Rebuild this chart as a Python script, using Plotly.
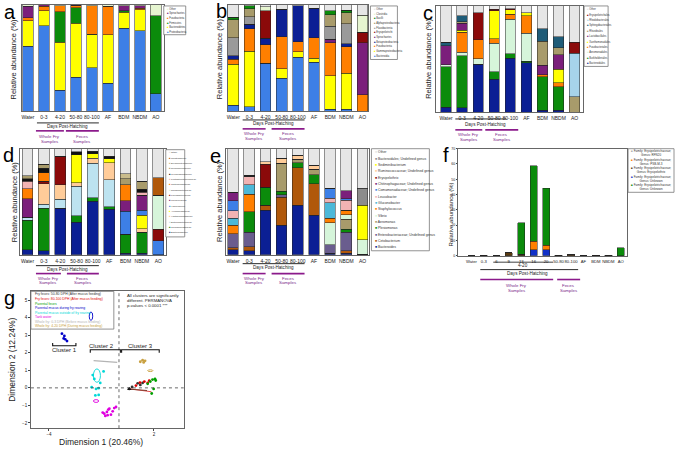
import plotly.graph_objects as go

W, H = 675, 452
FONT = "Liberation Sans, Arial, sans-serif"


def fx(p):
    return p / W


def fy(p):
    return 1 - p / H


# ---------------- DATA ----------------
CATS = ["Water", "0-3", "4-20", "50-80", "80-100", "AF", "BDM", "NBDM", "AO"]

# Panel a (phylum) – bottom to top
A_NAMES = ["Proteobacteria", "Bacteroidetes", "Firmicutes", "Fusobacteria", "Spirochaetes", "Other"]
A_VALUES = [
    [61, 80.6, 19.4, 32, 41, 26, 78, 75.6, 16.5],
    [24, 14, 45.3, 50.6, 31.6, 46, 15, 19.7, 0],
    [0, 0, 29, 15, 0, 0, 1.6, 0, 73.4],
    [3, 4, 5.6, 1.5, 26.6, 27, 0, 1.5, 0],
    [11, 1.4, 0, 0.5, 0, 0, 4.7, 2.5, 0],
    [1, 0, 0.7, 0.4, 0.8, 1, 0.7, 0.7, 10.1],
]

# Panel b (class)
B_NAMES = ["Bacteroidia", "Gammaproteobacteria", "Fusobacteriia", "Betaproteobacteria", "Spirochaetes",
           "Erysipelotrichi", "Flavobacteriia", "Alphaproteobacteria", "Bacilli", "Clostridia", "Other"]
B_VALUES = [
    [5.6, 4, 45, 31, 50.5, 46, 1.5, 1.5, 0],
    [38.7, 52.6, 0, 9, 5.6, 4, 32, 34, 0],
    [4.6, 21, 17.6, 30, 9, 19, 31, 25, 15.5],
    [3, 4.3, 6.2, 26, 34.4, 28, 0, 3, 0],
    [0, 0, 0, 0, 0, 0, 3, 0, 49],
    [0, 0, 25.7, 0, 0, 0, 0, 0, 10],
    [17, 7, 0, 0, 0, 0, 12.4, 19, 0],
    [17, 7.7, 0, 0, 0, 0, 10.8, 10, 0],
    [2.5, 2.5, 0, 0, 0, 0, 3.7, 2.5, 0],
    [0, 0, 3.7, 0, 0, 0, 0, 0, 16],
    [11.6, 0.9, 1.8, 4, 0.5, 3, 5.6, 5, 9.5],
]

# Panel c (order)
C_NAMES = ["Bacteroidales", "Burkholderiales", "Aeromonadales", "Fusobacteriales", "Xanthomonadales",
           "Lactobacillales", "Rhizobiales", "Sphingobacteriales", "Rhodobacterales", "Erysipelotrichales", "Other"]
C_VALUES = [
    [4.6, 4, 45, 31, 50.5, 46.4, 1.5, 1.5, 0],
    [38, 49, 0, 7, 4.3, 1.5, 31.6, 22.3, 0],
    [2, 3.4, 5.3, 27, 32.5, 26.3, 0, 0, 0],
    [0, 19, 18, 4, 5, 16.4, 1.9, 4, 0],
    [0, 1.5, 0, 26.3, 4.3, 3, 0, 12.4, 0],
    [18, 7, 0, 0, 0, 0, 9.3, 14, 0],
    [0, 1.2, 0, 0, 0, 0, 22.3, 6.2, 14.5],
    [3, 5.6, 0, 0, 0, 0, 11.8, 10.8, 0],
    [0, 0, 0, 0, 0, 0, 0, 0, 41],
    [0, 0, 25.4, 1.5, 1, 0, 0, 0, 10.2],
    [34.4, 9.3, 6.3, 3.2, 2.4, 6.4, 21.6, 28.8, 34.3],
]

# Panel d (family)
D_NAMES = ["Bacteroidaceae", "Comamonadaceae", "Enterobacteriaceae", "Xanthomonadaceae", "Aeromonadaceae",
           "Vibrionaceae", "Moraxellaceae", "Flavobacteriaceae", "Rhodobacteraceae", "Chitinophagaceae",
           "Peptostreptococcaceae", "Mycoplasmataceae", "Ruminococcaceae", "Erysipelotrichaceae",
           "Clostridiaceae", "Other"]
D_VALUES = [
    [4.7, 4, 43.7, 30.6, 50.6, 43, 1.5, 1.5, 0],
    [28, 39.7, 0, 6.3, 3.1, 2.2, 17.8, 19.7, 0],
    [2.5, 3.7, 8.4, 27.8, 32.8, 25.6, 0, 0, 0],
    [0, 19.7, 14, 3.4, 4.7, 16, 0, 3.1, 0],
    [0, 0, 0, 26.3, 4, 3.7, 0, 13.1, 0],
    [0, 0, 0, 0, 0, 0, 21.9, 4.7, 13.4],
    [17.8, 0, 0, 0, 0, 0, 9.7, 14, 0],
    [0, 2, 26.6, 0, 0, 0, 0, 0, 10.6],
    [0, 0, 0, 0, 0, 0, 0, 0, 32.2],
    [9.4, 8, 0, 0, 0, 0, 15.3, 0, 0],
    [6.9, 0, 0, 0, 0, 0, 0, 3, 0],
    [2.5, 4.4, 0, 2.5, 2.2, 2.5, 0, 2.5, 0],
    [2.5, 4, 0, 0, 0, 0, 5.6, 7.5, 0],
    [0, 0, 0, 0, 0, 0, 4.7, 0, 0],
    [0, 0, 0, 0, 0, 0, 0, 0, 16.6],
    [25.7, 14.5, 7.3, 3.1, 2.6, 7, 23.5, 30.9, 27.2],
]

# Panel e (genus)
E_NAMES = ["Bacteroides", "Cetobacterium", "Enterobacteriaceae; Undefined genus", "Plesiomonas", "Aeromonas",
           "Vibrio", "Staphylococcus", "Gluconobacter", "Leucobacter", "Comamonadaceae; Undefined genus",
           "Chitinophagaceae; Undefined genus", "Erysipelothrix", "Ruminococcaceae; Undefined genus",
           "Sediminibacterium", "Bacteroidales; Undefined genus", "Other"]
E_VALUES = [
    [4.7, 3.7, 42, 28, 46.6, 37.3, 1.2, 1.5, 0.6],
    [2, 4, 4.7, 26.4, 35.6, 29.5, 0, 2.2, 0],
    [13.3, 13.4, 0, 2.2, 0, 0, 8, 17.4, 0],
    [0, 19.3, 17, 3.1, 4.7, 8.4, 0, 3.1, 0],
    [0, 0, 0, 26.7, 3.1, 5.5, 0, 9.3, 0],
    [0, 0, 0, 0, 0, 0, 21, 4.4, 13.4],
    [7.8, 16.5, 0, 0, 0, 0, 4.4, 4, 0],
    [6.8, 9, 0, 0, 0, 0, 14.3, 0, 0],
    [7, 8, 0, 0, 0, 0, 4.4, 9.3, 0],
    [9.3, 0, 0, 0, 0, 0, 9.3, 1.5, 0],
    [7.8, 0, 0, 0, 0, 0, 0, 7.8, 0],
    [0, 1.2, 21.7, 0, 0, 0, 0, 0, 0],
    [0, 0, 2.2, 4.7, 3.7, 3.7, 0, 0, 0],
    [0, 0, 0, 0, 0, 0, 0, 0, 32.6],
    [0, 0, 0, 0, 0, 0, 0, 0, 16.1],
    [41.3, 24.9, 12.4, 8.9, 6.3, 15.6, 37.4, 39.5, 37.3],
]

# Panel f (Erysipelotrichaceae genera)
F_CATS = ["Water", "0-3", "6", "9", "13", "16", "20", "50-80", "80-100", "AF", "BDM", "NBDM", "AO"]
F_UNKNOWN_A = [0, 0, 0, 0, 0, 4, 4, 0, 0, 0, 0, 0, 0]
F_ERYSIPELOTHRIX = [0, 0.3, 0, 1.8, 1, 0, 0, 0.3, 0.7, 0, 0.3, 0.3, 0]
F_PSBM3 = [0, 0, 0, 0, 0, 5.5, 3, 0, 0, 0, 0, 0, 0]
F_UNKNOWN_B = [0, 0, 0, 0, 20.5, 49.5, 37, 0, 0, 0, 0, 0, 5.2]
F_LEGEND = ["Family: Erysipelotrichaceae;<br>Genus: RFN20", "Family: Erysipelotrichaceae;<br>Genus: PSB-M-3",
            "Family: Erysipelotrichaceae;<br>Genus: Erysipelothrix", "Family: Erysipelotrichaceae;<br>Genus: Unknown",
            "Family: Erysipelotrichaceae;<br>Genus: Unknown"]
F_YTICKS = [0, 10, 20, 30, 40, 50, 60, 70]

# Panel g (PCoA)
G_GROUPS = ["Fry feces: 50-80 DPH (After mucus feeding)", "Fry feces: 80-100 DPH (After mucus feeding)",
            "Parental feces", "Parental mucus during fry rearing", "Parental mucus outside of fry rearing",
            "Tank water", "Whole fry: 0-3 DPH (Before mucus feeding)", "Whole fry: 4-20 DPH (During mucus feeding)"]
G_X = [
    [0.59, 1.07, 1.35, 1.22, 0.75],
    [0.97, 1.45, 1.64, 1.73, 1.2],
    [1.79, 1.92, 2.06, 1.64, 1.87, 1.98, 2.1],
    [-3.26, -3.12, -3.07, -2.97, -3.16],
    [-0.88, -1.56, -1.31, -1.16, -1.07, -1.35, -1.16, -1.41, -1.5],
    [-0.84, -0.69, -0.55, -0.46, -0.27, -0.17, -0.78, -0.65, -0.36, -0.61, -0.93],
    [-1.45, -0.1],
    [1.22, 1.35, 1.49, 1.41],
]
G_Y = [
    [-0.06, 0.26, 0.28, 0.17, 0.05],
    [0.13, 0.36, 0.28, 0.41, 0.3],
    [0.36, 0.47, 0.51, 0.23, -0.32, -0.06, 0.42],
    [3.09, 2.96, 2.77, 2.67, 2.82],
    [0.94, 0.04, -0.06, -0.02, 0.28, -0.43, -0.40, 0.51, 0.73],
    [-1.47, -1.37, -1.19, -1.53, -1.15, -1.09, -1.6, -1.56, -1.34, -1.24, -1.41],
    [1.55, 1.45],
    [1.49, 1.58, 1.54, 1.45],
]
# ellipses: group index, centre x, centre y, half-width, half-height
G_ELLIPSES = [(3, -1.6, 4.09, 0.1, 0.24), (4, -1.26, 0.70, 0.2, 0.38), (5, -1.31, -0.75, 0.15, 0.08),
              (7, 1.79, 0.98, 0.15, 0.05)]
G_STREAKS_X = [[0.6, 1.85], [0.65, 1.6]]
G_STREAKS_Y = [[-0.05, -0.22], [-0.08, -0.15]]
G_XTICKS = [-4, 2]
G_YTICKS = [-2, -1, 0, 1, 2, 3, 4, 5]

# ---------------- STYLE ----------------
CORN = "#3D7FE6"; YEL = "#FFFF00"; GRN = "#0B8B0B"; ORG = "#FF7F00"; PUR = "#7B1F7B"
NAVY = "#0B1F94"; DRED = "#8B0A0A"; GRY = "#9A9A9A"; KHA = "#A89B6B"; LGRY = "#E6E6E6"
PGRN = "#E6F5D0"; MINT = "#D6F5DA"; TEAL = "#1F5C78"; LBLU = "#A6D3EA"; PEACH = "#FFCC99"
PINK = "#F2B3B3"; BLK = "#111111"; BRN = "#B0580A"; SLATE = "#6A5D8E"; CYAN = "#4DB8D8"
DGRY = "#8C8C8C"; SAND = "#C9BC8C"; LBLU2 = "#BDE3F0"

A_COLORS = [CORN, YEL, GRN, ORG, PUR, PGRN]
B_COLORS = [CORN, YEL, ORG, NAVY, PUR, DRED, GRY, KHA, GRN, PGRN, LGRY]
C_COLORS = [NAVY, GRN, MINT, ORG, YEL, PUR, KHA, TEAL, LBLU, DRED, LGRY]
D_COLORS = [NAVY, GRN, LBLU2, PEACH, YEL, CORN, PUR, DRED, MINT, ORG, PINK, BLK, KHA, SAND, BRN, LGRY]
E_COLORS = [NAVY, BRN, SLATE, GRN, KHA, MINT, ORG, CYAN, PINK, CORN, PUR, DRED, PEACH, YEL, DGRY, LGRY]
F_COLORS = ["#1030C8", "#5A3A10", ORG, GRN]
F_LEG_COLORS = ["#AAAAAA", ORG, "#5A3A10", "#1030C8", GRN]
G_COLORS = ["#333333", "#E00000", "#00A000", "#0000C8", "#00D8D8", "#E000E0", "#B4B4B4", "#C8A040"]
PURPLE_TXT = "#7A2A8A"

# panel frames in pixels: (left, right, top, bottom) and x ranges
FRAMES = {
    1: (21, 163, 3, 110), 2: (227, 368, 3, 110), 3: (436, 583, 4, 111),
    4: (19, 165, 148, 255), 5: (225, 369, 148, 255), 6: (458, 627, 148, 256),
    7: (30, 183, 292, 430),
}
XRANGES = {1: [-0.375, 8.5], 2: [-0.35, 8.37], 3: [-0.6, 8.53], 4: [-0.46, 8.46], 5: [-0.46, 8.43],
           6: [-1.05, 12.5], 7: [-5.03, 3.7]}

fig = go.Figure()
layout = dict(width=W, height=H, margin=dict(l=0, r=0, t=0, b=0), autosize=False,
              paper_bgcolor="white", plot_bgcolor="white", showlegend=False,
              barmode="stack", font=dict(family=FONT, color="#222"))

for i, (l, r, t, b) in FRAMES.items():
    sx = "" if i == 1 else str(i)
    common = dict(showline=True, mirror=True, linecolor="#666", linewidth=0.8, showgrid=False,
                  zeroline=False, ticks="", tickangle=0, tickfont=dict(size=5, family=FONT, color="#222"))
    xa = dict(common, domain=[fx(l), fx(r)], anchor="y" + sx, range=XRANGES[i])
    ya = dict(common, domain=[fy(b), fy(t)], anchor="x" + sx)
    if i <= 6:
        xa.update(type="category", ticklabelstandoff=1)
    if i <= 5:
        ya.update(range=[0, 100], showticklabels=False)
    if i == 6:
        ya.update(range=[0, 70], tickvals=F_YTICKS, ticks="outside", ticklen=1.5,
                  tickfont=dict(size=3.6, family=FONT, color="#222"))
        xa.update(tickfont=dict(size=4.2, family=FONT, color="#222"))
    if i == 7:
        xa.update(tickvals=G_XTICKS, ticks="outside", ticklen=2, tickfont=dict(size=4.5, family=FONT))
        ya.update(range=[-2.3, 5.5], tickvals=G_YTICKS, ticks="outside", ticklen=2,
                  tickfont=dict(size=4.5, family=FONT))
    layout["xaxis" + sx] = xa
    layout["yaxis" + sx] = ya


def add_stack(idx, cats, names, values, colors, width):
    sx = "" if idx == 1 else str(idx)
    for n, v, c in zip(names, values, colors):
        fig.add_trace(go.Bar(x=cats, y=v, name=n, marker=dict(color=c, line=dict(color="#222", width=0.5)),
                             width=width, xaxis="x" + sx, yaxis="y" + sx))


add_stack(1, CATS, A_NAMES, A_VALUES, A_COLORS, 0.66)
add_stack(2, CATS, B_NAMES, B_VALUES, B_COLORS, 0.66)
add_stack(3, CATS, C_NAMES, C_VALUES, C_COLORS, 0.64)
add_stack(4, CATS, D_NAMES, D_VALUES, D_COLORS, 0.66)
add_stack(5, CATS, E_NAMES, E_VALUES, E_COLORS, 0.66)
add_stack(6, F_CATS, ["Unknown", "Erysipelothrix", "PSB-M-3", "Unknown"],
          [F_UNKNOWN_A, F_ERYSIPELOTHRIX, F_PSBM3, F_UNKNOWN_B], F_COLORS, 0.58)

shapes = []
annots = []


def text(x, y, s, size, color="#222", xanchor="center", angle=0, yanchor="middle", xref="paper", yref="paper"):
    annots.append(dict(x=x if xref != "paper" else fx(x), y=y if yref != "paper" else fy(y), xref=xref,
                       yref=yref, text=s, showarrow=False, xanchor=xanchor, yanchor=yanchor, textangle=angle,
                       font=dict(size=size, color=color, family=FONT)))


def hline(x0, x1, y, color, w=1.0):
    shapes.append(dict(type="line", xref="paper", yref="paper", x0=fx(x0), x1=fx(x1), y0=fy(y), y1=fy(y),
                       line=dict(color=color, width=w)))


def legend_box(x0, y0, x1, y1, names, colors, fs, ystart, step):
    shapes.append(dict(type="rect", xref="paper", yref="paper", x0=fx(x0), x1=fx(x1), y0=fy(y1), y1=fy(y0),
                       line=dict(color="#777", width=0.8), fillcolor="white"))
    for k, (n, c) in enumerate(zip(names, colors)):
        text(x0 + 1.2, ystart + k * step, f"<span style='color:{c}'>■</span> {n}", fs, "#333", xanchor="left")


# legends (top item = last stacked series)
legend_box(163, 4, 185, 33, A_NAMES[::-1], A_COLORS[::-1], 2.6, 7, 4.6)
legend_box(370, 4, 397, 58, B_NAMES[::-1], B_COLORS[::-1], 2.6, 7, 4.7)
legend_box(584, 4, 608, 65, C_NAMES[::-1], C_COLORS[::-1], 2.6, 7.5, 5.4)
legend_box(165, 149, 184, 237, D_NAMES[::-1], D_COLORS[::-1], 2.4, 152, 5.4)
legend_box(371, 148, 429, 251, E_NAMES[::-1], E_COLORS[::-1], 3.4, 151.5, 6.4)
legend_box(628, 148, 674, 192, F_LEGEND, F_LEG_COLORS, 3.0, 152.5, 8.6)

# panel letters
for s, x, y in [("a", 1, 10), ("b", 213, 9), ("c", 421, 11), ("d", 0, 154), ("e", 207, 155), ("f", 441, 154),
                ("g", 1, 299)]:
    text(x, y, s, 20, "#000", xanchor="left")

# y titles
for x, y, fs in [(13, 57, 7.5), (219, 57, 7.5), (428, 57, 7.5), (13, 201, 7.5), (219, 201, 7.5),
                 (451, 214, 6)]:
    text(x, y, "Relative abundance (%)", fs, "#222", angle=-90)

# group brackets under panels
GROUPS = [
    # line y, line x0, x1, text (x,y), purple y, wf x0,x1, fe x0,x1, label y1, y2
    (122, 36, 98, 67, 126, 130, 35, 63, 65, 98, 135.5, 140.5),
    (119, 242, 304, 273, 123, 128, 242, 265, 271, 304, 133, 138),
    (118, 455, 506, 485, 123.5, 129, 455, 482, 485, 518, 134, 139),
    (266, 35, 98, 67, 270, 274, 35, 60, 66, 98, 278.5, 283.5),
    (264, 242, 304, 273, 268, 274, 242, 265, 271, 304, 278.5, 283.5),
    (270, 480, 578, 527, 274, 280, 480, 553, 557, 580, 286, 291),
]
for (ly, lx0, lx1, tx, ty, py_, w0, w1, f0, f1, l1, l2) in GROUPS:
    hline(lx0, lx1, ly, "#111", 0.9)
    text(tx, ty, "Days Post-Hatching", 4.6, "#222")
    hline(w0, w1, py_, "#8B1A8B", 1.6)
    hline(f0, f1, py_, "#8B1A8B", 1.6)
    text((w0 + w1) / 2, l1, "Whole Fry", 4.4, PURPLE_TXT)
    text((w0 + w1) / 2, l2, "Samples", 4.4, PURPLE_TXT)
    text((f0 + f1) / 2, l1, "Feces", 4.4, PURPLE_TXT)
    text((f0 + f1) / 2, l2, "Samples", 4.4, PURPLE_TXT)
hline(493, 553, 262.5, "#111", 0.8)
text(523, 266, "4-20", 4.6, "#222")

# ---------------- panel g ----------------
for k, name in enumerate(G_GROUPS):
    if k == 6:
        fig.add_trace(go.Scatter(x=G_X[k], y=G_Y[k], mode="lines", line=dict(color=G_COLORS[k], width=1.2),
                                 xaxis="x7", yaxis="y7", name=name))
    else:
        fig.add_trace(go.Scatter(x=G_X[k], y=G_Y[k], mode="markers", name=name,
                                 marker=dict(color=G_COLORS[k], size=2.8, symbol="circle"),
                                 xaxis="x7", yaxis="y7"))
for sx_, sy_, c in zip(G_STREAKS_X, G_STREAKS_Y, ["#E05050", "#7A3A2A"]):
    fig.add_trace(go.Scatter(x=sx_, y=sy_, mode="lines", line=dict(color=c, width=1.1), xaxis="x7", yaxis="y7"))
fig.add_trace(go.Scatter(x=[G_X[0][0]], y=[G_Y[0][0]], mode="markers", xaxis="x7", yaxis="y7",
                         marker=dict(symbol="triangle-up", color="#111", size=4)))
for gi, cx, cy, rx, ry in G_ELLIPSES:
    shapes.append(dict(type="circle", xref="x7", yref="y7", x0=cx - rx, x1=cx + rx, y0=cy - ry, y1=cy + ry,
                       line=dict(color=G_COLORS[gi], width=0.9)))
# dotted reference lines
shapes.append(dict(type="line", xref="x7", yref="y7 domain", x0=0, x1=0, y0=0, y1=1,
                   line=dict(color="#444", width=0.8, dash="dot")))
shapes.append(dict(type="line", xref="x7 domain", yref="y7", x0=0, x1=1, y0=0, y1=0,
                   line=dict(color="#444", width=0.8, dash="dot")))
# cluster brackets
for (x0, x1, yb, yt, lab, lx, ly) in [(-3.79, -2.46, 2.54, 2.40, "Cluster 1", -3.12, 2.16),
                                      (-1.64, 0.08, 2.0, 2.17, "Cluster 2", -0.98, 2.37),
                                      (0.15, 2.3, 2.0, 2.17, "Cluster 3", 1.22, 2.37)]:
    ytop = max(yb, yt)
    ybot = min(yb, yt)
    if lab == "Cluster 1":
        path = f"M{x0},{ybot + 0.16} L{x0},{ybot} L{x1},{ybot} L{x1},{ybot + 0.16}"
    else:
        path = f"M{x0},{ybot} L{x0},{ytop} L{x1},{ytop} L{x1},{ybot}"
    shapes.append(dict(type="path", xref="x7", yref="y7", path=path, line=dict(color="#111", width=1.1)))
    text(lx, ly, lab, 6, "#222", xref="x7", yref="y7")

# g legend
shapes.append(dict(type="rect", xref="paper", yref="paper", x0=fx(30), x1=fx(113), y0=fy(330), y1=fy(292),
                   line=dict(color="#777", width=0.8), fillcolor="rgba(255,255,255,0)"))
for k, (n, c) in enumerate(zip(G_GROUPS, G_COLORS)):
    text(32, 295 + k * 4.6, n, 3.4, c, xanchor="left")
for k, s in enumerate(["All clusters are significantly", "different. PERMANOVA", "p-values < 0.0001 ***"]):
    text(124, 296 + k * 5, s, 4.3, "#222", xanchor="left")
text(100, 444, "Dimension 1 (20.46%)", 8.5, "#222")
text(11, 361, "Dimension 2 (12.24%)", 8.5, "#222", angle=-90)

layout["shapes"] = shapes
layout["annotations"] = annots
fig.update_layout(**layout)
fig.write_html("out.html", config={"displayModeBar": False},
               post_script="document.body.style.margin='0';")
